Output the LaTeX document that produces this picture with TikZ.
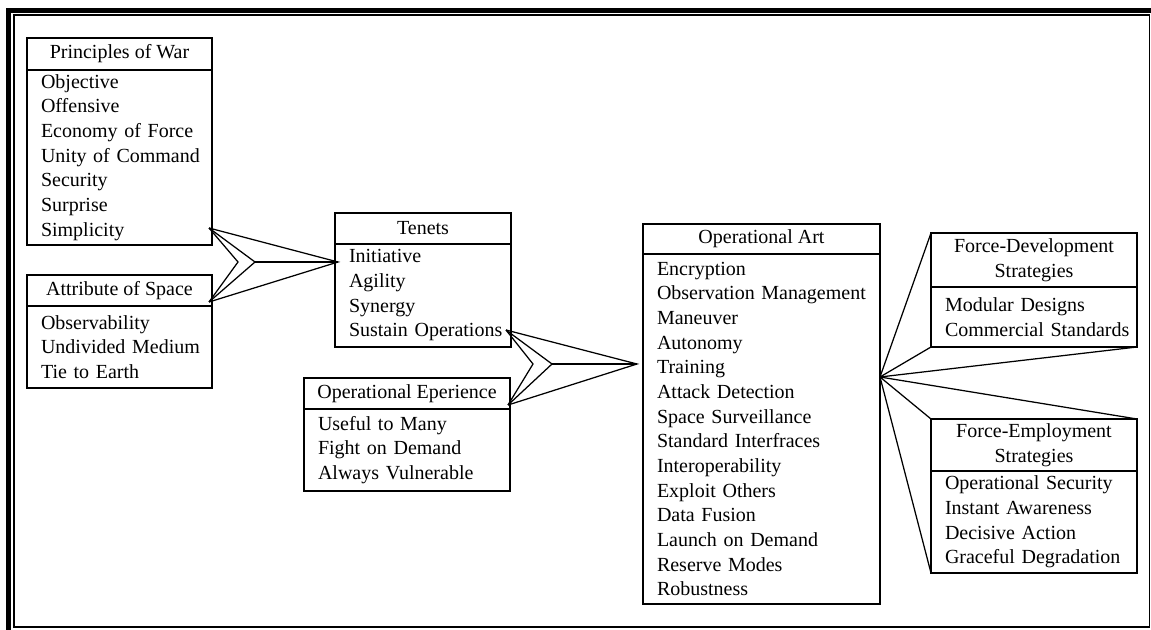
\documentclass[tikz,border=0pt]{standalone}
\usepackage{fontspec}
\setmainfont{Liberation Serif}
\usetikzlibrary{positioning}
\tikzset{%
	head/.style={draw, rectangle, line width=1pt, outer sep=0pt, inner sep=0pt, align=center},
	body/.style={draw, rectangle, line width=1pt, outer sep=0pt, inner sep=0pt, align=left,%
		execute at begin node={\leftskip=8.4pt\relax}},
	link/.style={line width=0.75pt},
	frame/.style={line width=0.9pt}
}
\begin{document}
\begin{tikzpicture}[x=0.6pt, y=-0.6pt, font=\fontsize{12pt}{14.8pt}\selectfont]
	\useasboundingbox (0,0) rectangle (1151,630);
	% outer frame
	\draw[line width=3pt] (8.5,630) -- (8.5,10.5) -- (1151,10.5);
	\draw[frame] (14,15) rectangle (1149.5,627);

	% left column
	\node[head, minimum width=111pt, minimum height=19.2pt, anchor=north west] (pw) at (27,38) {Principles of War};
	\node[body, text width=111pt, minimum height=105pt, below=0pt of pw] (pwb)
		{Objective\\Offensive\\Economy of Force\\Unity of Command\\Security\\Surprise\\Simplicity};
	\node[head, minimum width=111pt, minimum height=18.6pt, anchor=north west] (as) at (27,275) {Attribute of Space};
	\node[body, text width=111pt, minimum height=49.2pt, below=0pt of as] (asb)
		{Observability\\Undivided Medium\\Tie to Earth};

	% middle column
	\node[head, minimum width=105.6pt, minimum height=18.6pt, anchor=north west] (tn) at (335,213) {Tenets};
	\node[body, text width=105.6pt, minimum height=61.8pt, below=0pt of tn] (tnb)
		{Initiative\\Agility\\Synergy\\Sustain Operations};
	\node[head, minimum width=123.6pt, minimum height=18.6pt, anchor=north west] (oe) at (304,378) {Operational Eperience};
	\node[body, text width=123.6pt, minimum height=49.2pt, below=0pt of oe] (oeb)
		{Useful to Many\\Fight on Demand\\Always Vulnerable};

	% operational art
	\node[head, minimum width=142.2pt, minimum height=18pt, anchor=north west] (oa) at (643,224) {Operational Art};
	\node[body, text width=142.2pt, minimum height=210pt, below=0pt of oa] (oab)
		{Encryption\\Observation Management\\Maneuver\\Autonomy\\Training\\Attack Detection\\%
		Space Surveillance\\Standard Interfraces\\Interoperability\\Exploit Others\\Data Fusion\\%
		Launch on Demand\\Reserve Modes\\Robustness};

	% strategies
	\node[head, minimum width=123.6pt, minimum height=32.4pt, anchor=north west] (fd) at (931,233)
		{Force-Development\\Strategies};
	\node[body, text width=123.6pt, minimum height=36pt, below=0pt of fd] (fdb)
		{Modular Designs\\Commercial Standards};
	\node[head, minimum width=123.6pt, minimum height=31.2pt, anchor=north west] (fe) at (931,419)
		{Force-Employment\\Strategies};
	\node[body, text width=123.6pt, minimum height=61.2pt, below=0pt of fe] (feb)
		{Operational Security\\Instant Awareness\\Decisive Action\\Graceful Degradation};

	% chevron points
	\coordinate (c1a) at (209,228);
	\coordinate (c1b) at (209,302);
	\coordinate (c1n) at (238,262);
	\coordinate (c1m) at (255,262);
	\coordinate (c1t) at (338,262);
	\coordinate (c2a) at (506,330);
	\coordinate (c2b) at (508,405);
	\coordinate (c2n) at (533,364);
	\coordinate (c2m) at (552,364);
	\coordinate (c2t) at (637,364);
	\coordinate (fan) at (880,377);

	\draw[link] (c1a) -- (c1t) -- (c1b);
	\draw[link] (c1a) -- (c1n) -- (c1b);
	\draw[link] (c1a) -- (c1m) -- (c1b);
	\draw[link] (c1m) -- (c1t);

	\draw[link] (c2a) -- (c2t) -- (c2b);
	\draw[link] (c2a) -- (c2n) -- (c2b);
	\draw[link] (c2a) -- (c2m) -- (c2b);
	\draw[link] (c2m) -- (c2t);

	\foreach \p in {fd.north west, fdb.south west, fdb.south east, fe.north west, fe.north east, feb.south west}
		\draw[link] (fan) -- (\p);
\end{tikzpicture}
\end{document}
